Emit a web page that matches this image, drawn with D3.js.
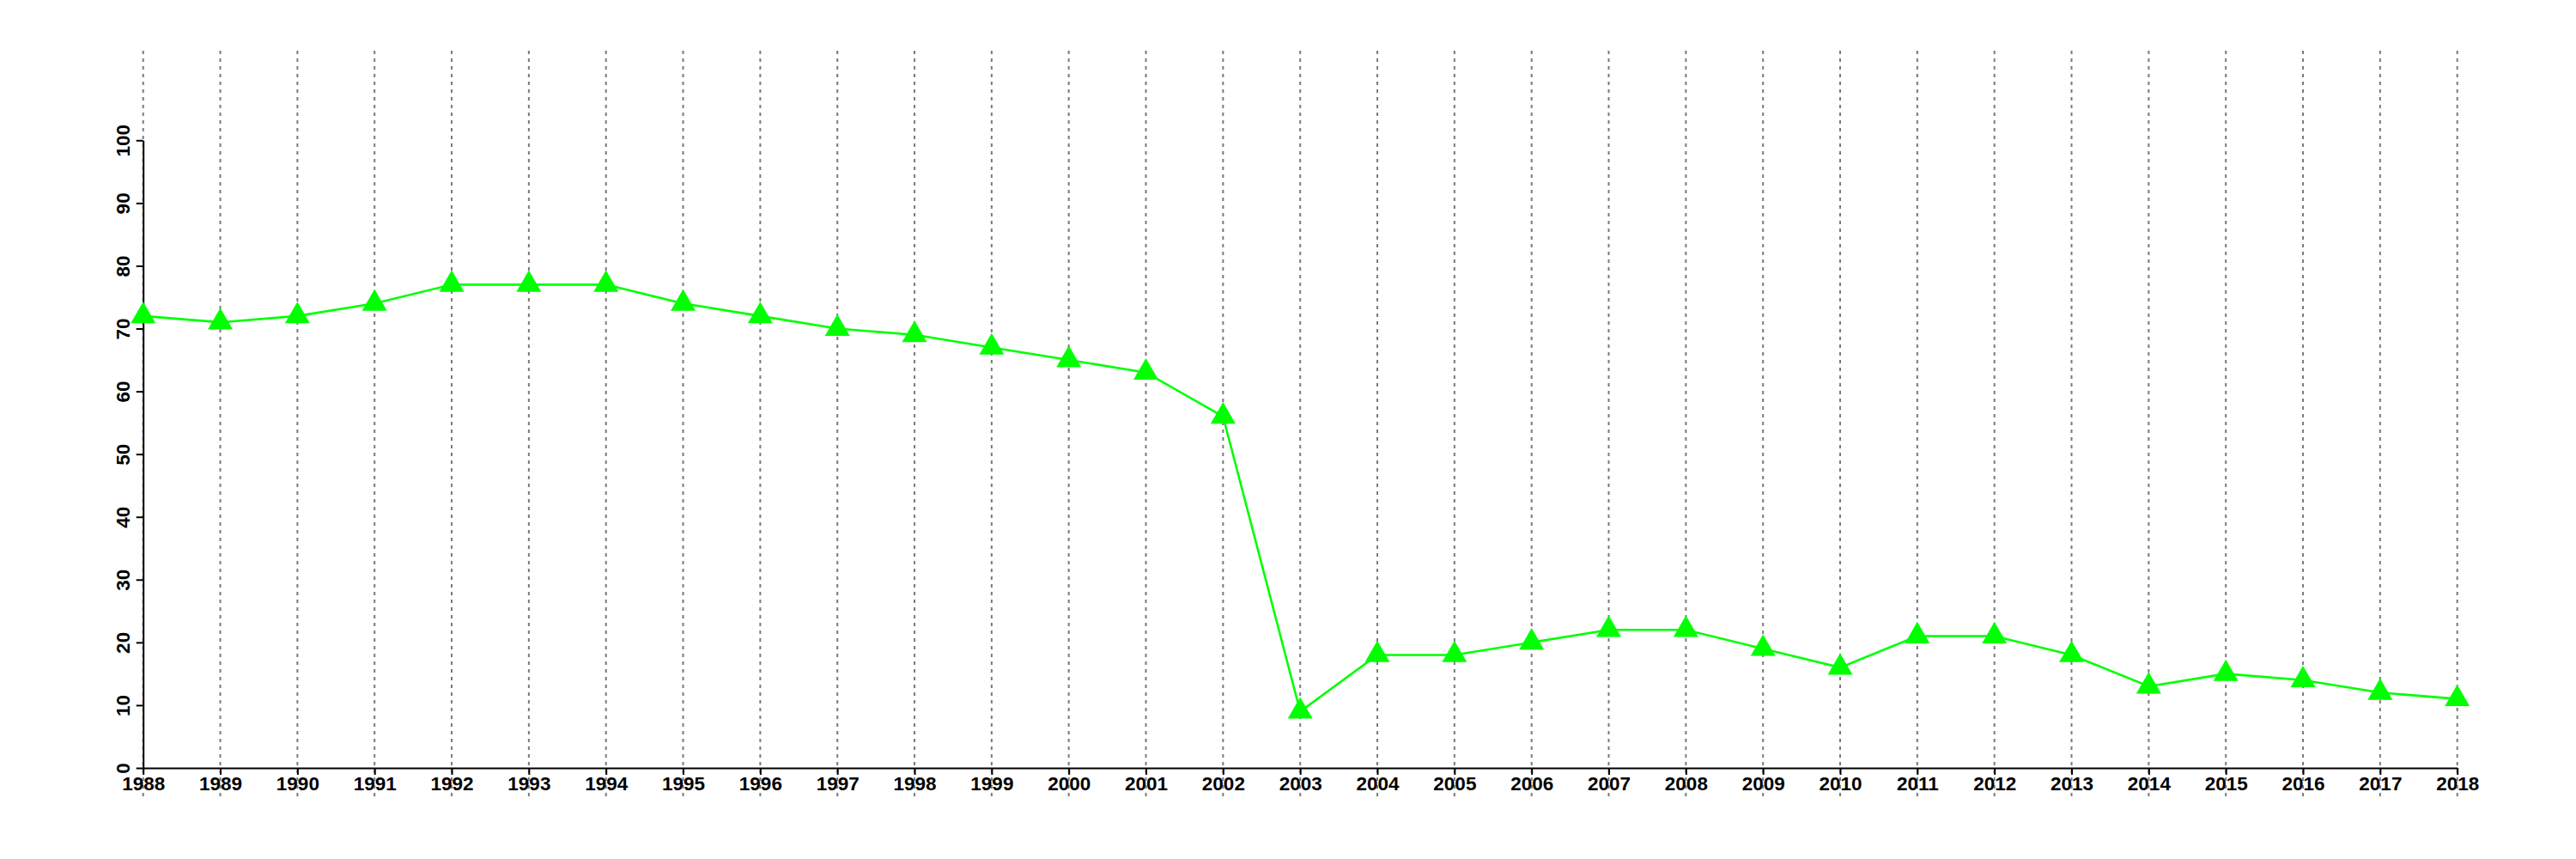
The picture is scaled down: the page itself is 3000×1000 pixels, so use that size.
<!DOCTYPE html>
<html>
<head>
<meta charset="utf-8">
<script src="https://cdn.jsdelivr.net/npm/d3@7"></script>
<style>
  html, body { margin: 0; padding: 0; background: #fff; }
  svg { display: block; }
</style>
</head>
<body>
<script>
const years = [1988,1989,1990,1991,1992,1993,1994,1995,1996,1997,1998,1999,2000,2001,2002,2003,2004,2005,2006,2007,2008,2009,2010,2011,2012,2013,2014,2015,2016,2017,2018];
const values = [72,71,72,74,77,77,77,74,72,70,69,67,65,63,56,9,18,18,20,22,22,19,16,21,21,18,13,15,14,12,11];
const yTicks = [0,10,20,30,40,50,60,70,80,90,100];

const W = 3000, H = 1000;
const svg = d3.select("body").append("svg").attr("width", W).attr("height", H);

const x = d3.scaleLinear().domain([1988, 2018]).range([166.7, 2861.7]);
const y = d3.scaleLinear().domain([0, 100]).range([894, 163.3]);

const fontFamily = "'Liberation Sans', Arial, Helvetica, sans-serif";

// dotted vertical grid lines
svg.append("g").selectAll("line").data(years).join("line")
  .attr("x1", d => x(d)).attr("x2", d => x(d))
  .attr("y1", 59).attr("y2", 928)
  .attr("stroke", "#7a7a7a").attr("stroke-width", 2)
  .attr("stroke-dasharray", "4,5");

// axes
const xAxis = svg.append("g").attr("transform", `translate(0,${y(0)})`)
  .call(d3.axisBottom(x).tickValues(years).tickFormat(d3.format("d")).tickSize(8).tickSizeOuter(0));
xAxis.select(".domain").attr("stroke", "#000").attr("stroke-width", 2);
xAxis.selectAll(".tick line").attr("stroke", "#000").attr("stroke-width", 2);
xAxis.selectAll(".tick text").attr("y", 26).attr("dy", null)
  .attr("font-family", fontFamily).attr("font-weight", "bold").attr("font-size", 22.5).attr("fill", "#000");

const yAxis = svg.append("g").attr("transform", `translate(${x(1988)},0)`)
  .call(d3.axisLeft(y).tickValues(yTicks).tickFormat(d3.format("d")).tickSize(8).tickSizeOuter(0));
yAxis.select(".domain").attr("stroke", "#000").attr("stroke-width", 2);
yAxis.selectAll(".tick line").attr("stroke", "#000").attr("stroke-width", 2);
yAxis.selectAll(".tick text").attr("x", null).attr("dy", null)
  .attr("transform", "translate(-16,0) rotate(-90)")
  .attr("text-anchor", "middle")
  .attr("font-family", fontFamily).attr("font-weight", "bold").attr("font-size", 22.5).attr("fill", "#000");
xAxis.attr("font-family", null); yAxis.attr("font-family", null);

// line
const data = years.map((yr, i) => ({ year: yr, value: values[i] }));
svg.append("path").datum(data)
  .attr("fill", "none").attr("stroke", "#00ff00").attr("stroke-width", 2.6)
  .attr("d", d3.line().x(d => x(d.year)).y(d => y(d.value)));

// markers
const tri = d3.symbol().type(d3.symbolTriangle).size(364);
svg.append("g").selectAll("path").data(data).join("path")
  .attr("transform", d => `translate(${x(d.year)},${y(d.value)})`)
  .attr("d", tri)
  .attr("fill", "#00ff00");
</script>
</body>
</html>
